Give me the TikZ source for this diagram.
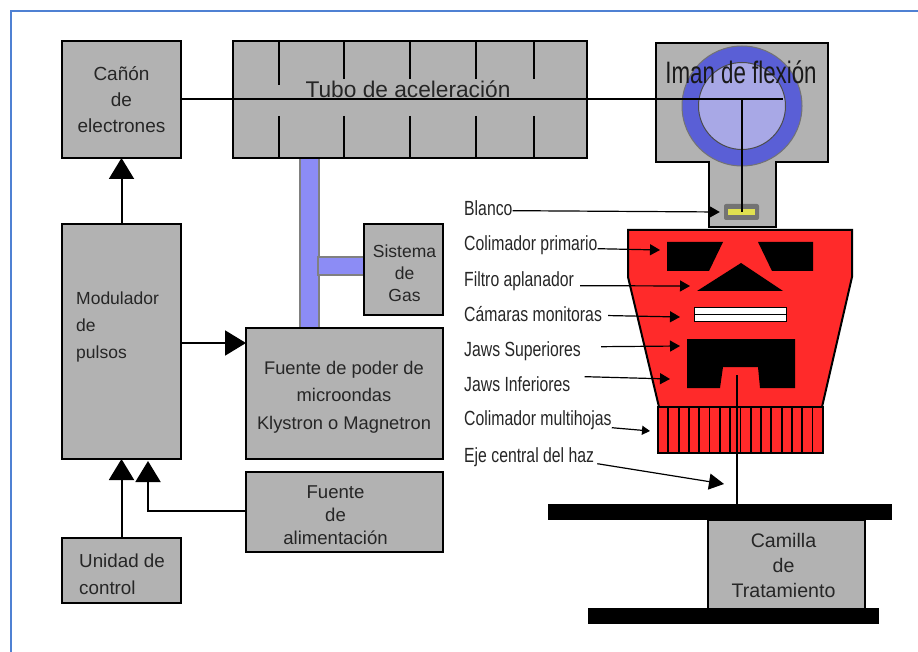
\documentclass[tikz,border=0pt]{standalone}
\usepackage{fontspec}
\setmainfont{Liberation Sans}
\newfontfamily\narrowfont[FakeStretch=0.77]{Liberation Sans}
\newfontfamily\slimfont[FakeStretch=0.72]{Liberation Sans}
\usetikzlibrary{arrows.meta, positioning, calc}
\definecolor{boxgray}{HTML}{B2B2B2}
\definecolor{framecol}{HTML}{4F81D3}
\definecolor{headred}{HTML}{FF2A2A}
\definecolor{ringblue}{HTML}{5A5FD6}
\definecolor{lightblue}{HTML}{A8A8E6}
\definecolor{pipeblue}{HTML}{8C8CF5}
\definecolor{targetyel}{HTML}{E0E050}
\tikzset{
  block/.style={rectangle, draw=black, line width=2pt, fill=boxgray, anchor=north west,
                inner sep=0pt, outer sep=0pt, align=center, text=black!85, font=\fontsize{19}{26}\selectfont},
  blocktxt/.style={inner sep=0pt, text=black!85},
  pipe/.style={rectangle, draw=black!50, line width=2pt, fill=pipeblue, anchor=north west, inner sep=0pt, outer sep=0pt},
  solid/.style={rectangle, fill=black, anchor=north west, inner sep=0pt},
  lbl/.style={anchor=base west, inner sep=0pt, text=black!85, font=\narrowfont\fontsize{20.5}{22}\selectfont},
  arr/.style={-{Triangle[length=21pt, width=25pt]}, line width=2pt},
  tag/.style={-{Triangle[length=10pt, width=11pt]}, line width=1.2pt},
  tagsmall/.style={-{Triangle[length=8pt, width=9pt]}, line width=1.2pt},
  tagbig/.style={-{Triangle[length=15pt, width=16pt]}, line width=1.2pt},
  beam/.style={line width=2.5pt},
  vane/.style={line width=1.8pt},
}
\newcommand{\blockat}[6][]{\node[block, minimum width=#4pt, minimum height=#5pt, #1] (#2) at (#3) {#6};}
\begin{document}
\begin{tikzpicture}[x=1pt, y=-1pt]
  \useasboundingbox (0,0) rectangle (918,652);
  \draw[framecol, line width=2.4pt] (11,660) -- (11,11) -- (925,11);

  % pipes go under the blocks
  \node[pipe, minimum width=19pt, minimum height=172pt] (pipev) at (299.5,157) {};
  \node[pipe, minimum width=46pt, minimum height=18pt] (pipeh) at (318,257) {};

  % left column
  \blockat{canon}{62,41}{119}{117}{Cañón\\de\\electrones}
  \blockat{modulador}{62,224}{119}{235}{}
  \node[blocktxt, anchor=west, align=left, font=\fontsize{17.5}{27}\selectfont] (modtxt) at (76,327) {Modulador\\de\\pulsos};
  \blockat{control}{62,538}{119}{65}{}
  \node[blocktxt, anchor=west, align=left, font=\fontsize{18.8}{27}\selectfont] (controltxt) at (79,574) {Unidad de\\control};
  \blockat{tubo}{233,41}{354}{117}{}
  \blockat{gas}{364,224}{79}{91}{}
  \node[blocktxt, align=center, font=\fontsize{17.5}{22}\selectfont] (gastxt) at (404.5,273) {Sistema\\de\\Gas};
  \blockat{poder}{246,328}{197}{131}{}
  \node[blocktxt, align=center, font=\fontsize{18.3}{27.5}\selectfont] (podertxt) at (344,397) {Fuente de poder de\\microondas\\Klystron o Magnetron};
  \blockat{alim}{246,472}{197}{80}{}
  \node[blocktxt, align=center, font=\fontsize{18.6}{23}\selectfont] (alimtxt) at (335.5,515) {Fuente\\de\\alimentación};

  % tube vanes
  \foreach \vx/\vy in {279/85,344/79,410/79,476/79,534/79} {
    \draw[vane] (\vx,41) -- (\vx,\vy);
    \draw[vane] (\vx,116) -- (\vx,158);
  }

  % bending magnet
  \path[draw=black, line width=2pt, fill=boxgray]
    (656,43) -- (828,43) -- (828,162) -- (776,162) -- (776,227) -- (709,227) -- (709,162) -- (656,162) -- cycle;
  \node[circle, draw=black!55, line width=1pt, fill=ringblue, minimum size=120pt, inner sep=0pt] (ring) at (742,106) {};
  \node[circle, draw=black!70, line width=1pt, fill=lightblue, minimum size=87pt, inner sep=0pt] (core) at (ring.center) {};
  \node[rectangle, fill=black!55, rounded corners=2pt, minimum width=35pt, minimum height=16pt, inner sep=0pt] (blanco) at (741.5,212) {};
  \node[rectangle, fill=targetyel, minimum width=27pt, minimum height=6pt, inner sep=0pt] (target) at (blanco.center) {};

  % beam
  \coordinate (bend) at (742,99);
  \coordinate (beamend) at (783,99);
  \draw[beam] (canon.east |- bend) -- (beamend);
  \draw[beam] (bend) -- (742,212);
  \node[inner sep=0pt, text=black!85, font=\fontsize{22.7}{24}\selectfont] (tubotxt) at (408,89) {Tubo de aceleración};
  \node[inner sep=0pt, text=black!90, font=\slimfont\fontsize{31}{33}\selectfont] (iman) at (741,72) {Iman de flexión};

  % treatment head
  \path[draw=black, line width=2pt, fill=headred]
    (628,230) -- (852,230) -- (852,277) -- (822,407) -- (659,407) -- (628,277) -- cycle;
  \fill (667,242) -- (723,242) -- (709,271) -- (667,271) -- cycle;
  \fill (758,242) -- (813,242) -- (813,271) -- (772,271) -- cycle;
  \fill (741,263) -- (783,291) -- (697,291) -- cycle;
  \node[rectangle, draw=black, line width=1pt, fill=white, anchor=north west, minimum width=92pt, minimum height=14pt, inner sep=0pt, outer sep=0pt] (camaras) at (694.5,307.5) {};
  \draw[line width=1pt] (camaras.west) -- (camaras.east);
  \fill (687,339) -- (795,339) -- (795,388) -- (760,388) -- (758,367) -- (723,367) -- (720,388) -- (687,388) -- cycle;

  % multileaf collimator
  \node[rectangle, draw=black, line width=2pt, fill=headred, anchor=north west, minimum width=165pt, minimum height=46pt, inner sep=0pt, outer sep=0pt] (mlc) at (658,407) {};
  \foreach \i in {1,...,15} {
    \draw[line width=1.8pt] ($(mlc.north west)+(10.3*\i,0)$) -- ($(mlc.south west)+(10.3*\i,0)$);
  }
  \coordinate (beamtop) at (737,375);

  % table
  \node[solid, minimum width=344pt, minimum height=15.5pt] (tablatop) at (548,504) {};
  \blockat{camilla}{707.5,519.5}{157}{89}{}
  \node[blocktxt, align=center, font=\fontsize{19.6}{25}\selectfont] (camillatxt) at (783.5,565) {Camilla\\de\\Tratamiento};
  \node[solid, minimum width=291pt, minimum height=16pt] (tablabot) at (588,608) {};
  \draw[line width=2.2pt] (beamtop) -- (beamtop |- tablatop.north);

  % block connectors
  \draw[arr] (modulador.north -| canon.south) -- (canon.south);
  \draw[arr] (modulador.east |- 0,343) -- (poder.west |- 0,343);
  \draw[arr] (control.north) -- (modulador.south);
  \draw[arr] (alim.west |- 0,511) -- (148,511) -- (148,461);

  % labels
  \node[lbl] (lblanco) at (464,216) {Blanco};
  \node[lbl] (lprim) at (464,251) {Colimador primario};
  \node[lbl] (lfiltro) at (464,287) {Filtro aplanador};
  \node[lbl] (lcam) at (464,321) {Cámaras monitoras};
  \node[lbl] (lsup) at (464,356) {Jaws Superiores};
  \node[lbl] (linf) at (464,391) {Jaws Inferiores};
  \node[lbl] (lmlc) at (464,425) {Colimador multihojas};
  \node[lbl] (leje) at (464,462) {Eje central del haz};

  \coordinate (tprim) at (660,250);
  \coordinate (tfiltro) at (690,286);
  \coordinate (tcam) at (680,317);
  \coordinate (tsup) at (680,346);
  \coordinate (tinf) at (670,379);
  \coordinate (tmlc) at (650,431);
  \coordinate (teje) at (724,484);
  \draw[tag] ([yshift=-2pt]lblanco.east) -- ([xshift=-4pt]blanco.west);
  \draw[tag] ([yshift=-3pt]lprim.east) -- (tprim);
  \draw[tag] ([xshift=6pt,yshift=-4pt]lfiltro.east) -- (tfiltro);
  \draw[tag] ([xshift=6pt,yshift=-2pt]lcam.east) -- (tcam);
  \draw[tag] ([xshift=20pt,yshift=4pt]lsup.east) -- (tsup);
  \draw[tag] ([xshift=14pt,yshift=7pt]linf.east) -- (tinf);
  \draw[tagsmall] (lmlc.east) ++(0,8) -- (tmlc);
  \draw[tagbig] ([xshift=3pt,yshift=-7pt]leje.east) -- (teje);
\end{tikzpicture}
\end{document}
